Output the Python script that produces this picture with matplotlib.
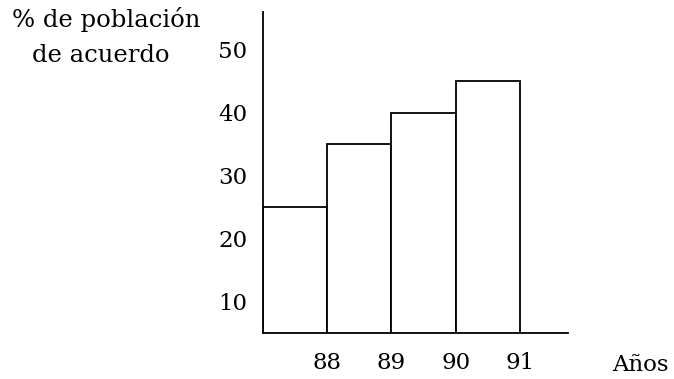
import matplotlib.pyplot as plt

plt.rcParams['font.family'] = ['DejaVu Serif']

years = [88, 89, 90, 91]
percent = [25, 35, 40, 45]
ytick_values = [10, 20, 30, 40, 50]

fig = plt.figure(figsize=(6.74, 3.79), dpi=100)
ax = fig.add_axes([0.390, 0.1214, 0.453, 0.847])

# each bar ends at its year label (histogram style)
ax.bar([y - 1 for y in years], percent, width=1, align='edge',
       bottom=0, color='white', edgecolor='black', linewidth=1.3)

ax.set_xlim(87, 91.75)
ax.set_ylim(5, 56)
ax.set_xticks(years)
ax.set_xticklabels([str(y) for y in years])
ax.set_yticks(ytick_values)
ax.tick_params(axis='both', length=0, labelsize=16.5)
ax.tick_params(axis='y', pad=11)
ax.tick_params(axis='x', pad=14)

for side in ['top', 'right']:
    ax.spines[side].set_visible(False)
for side in ['left', 'bottom']:
    ax.spines[side].set_linewidth(1.3)

fig.text(0.157, 0.929, '% de población', ha='center', va='baseline', fontsize=17.5)
fig.text(0.149, 0.836, 'de acuerdo', ha='center', va='baseline', fontsize=17.5)
fig.text(0.950, 0.021, 'Años', ha='center', va='baseline', fontsize=16.5)

plt.savefig('out.png', dpi=100)
